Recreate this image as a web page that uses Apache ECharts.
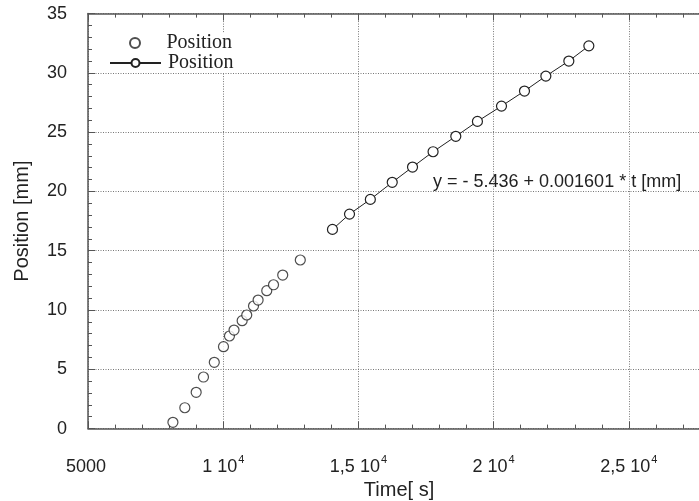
<!DOCTYPE html>
<html>
<head>
<meta charset="utf-8">
<script src="https://cdn.jsdelivr.net/npm/echarts@6.0.0/dist/echarts.min.js"></script>
<style>
  html, body { margin: 0; padding: 0; background: #fff; }
  #chart { width: 699px; height: 501px; }
</style>
</head>
<body>
<div id="chart"></div>
<script>
'use strict';
// measured points (scatter part)
var timeA = [8140, 8580, 9000, 9270, 9670, 10010, 10230, 10400, 10700, 10870, 11120, 11290, 11610, 11860, 12200, 12850];
var posA = [0.53, 1.76, 3.06, 4.35, 5.59, 6.91, 7.81, 8.31, 9.10, 9.58, 10.34, 10.84, 11.63, 12.13, 12.95, 14.22];
// linear part, drawn with line
var timeB = [14040, 14670, 15440, 16250, 17000, 17760, 18600, 19400, 20290, 21140, 21930, 22780, 23520];
var posB = [16.80, 18.09, 19.33, 20.77, 22.06, 23.35, 24.65, 25.91, 27.20, 28.47, 29.73, 31.00, 32.28];

var xTicks = [5000, 10000, 15000, 20000, 25000];
var xTickText = ['5000', '1 10', '1,5 10', '2 10', '2,5 10'];
var xTickExp = ['', '4', '4', '4', '4'];
var yTicks = [0, 5, 10, 15, 20, 25, 30, 35];

var fitText = 'y = - 5.436 + 0.001601 * t [mm]';

var sans = "'Liberation Sans', Arial, Helvetica, sans-serif";
var serif = "'Liberation Serif', 'Times New Roman', serif";

function pairs(xs, ys) {
    var out = [];
    for (var i = 0; i < xs.length; i++) {
        out.push([xs[i], ys[i]]);
    }
    return out;
}

var axisCol = '#555';
function tickStyle() {
    return { show: true, inside: true, length: 7, lineStyle: { color: axisCol, width: 1 } };
}
function minorStyle() {
    return { show: true, splitNumber: 5, length: 4, lineStyle: { color: axisCol, width: 1 } };
}
function lineStyle() {
    return { show: true, onZero: false, lineStyle: { color: axisCol, width: 1.5 } };
}
var gridStyle = { show: true, lineStyle: { color: '#777', type: [1, 1.5], width: 1 } };

var myChart = echarts.init(document.getElementById('chart'), null, { renderer: 'canvas' });
var option = {
    backgroundColor: '#fff',
    animation: false,
    grid: { left: 88, top: 13.6, right: -11, bottom: 72.4, containLabel: false, outerBoundsMode: 'none' },
    legend: [
        {
            data: ['Position'],
            left: 129, top: 33, padding: 0,
            itemWidth: 49, itemHeight: 10,
            backgroundColor: '#fff',
            formatter: function () { return 'Position'; },
            textStyle: { fontFamily: serif, fontSize: 20, color: '#222', padding: [0, 0, 0, 2] }
        },
        {
            data: ['Position fit'],
            left: 109, top: 53, padding: 0,
            itemWidth: 51, itemHeight: 10,
            backgroundColor: '#fff',
            formatter: function () { return 'Position'; },
            textStyle: { fontFamily: serif, fontSize: 20, color: '#222', padding: [0, 0, 0, 2] }
        }
    ],
    xAxis: [
        {
            type: 'value',
            min: 5000, max: 28000, interval: 5000,
            name: 'Time[ s]',
            nameLocation: 'middle',
            nameGap: 44,
            nameTextStyle: { fontFamily: sans, fontSize: 20, color: '#222' },
            axisLine: lineStyle(),
            axisTick: tickStyle(),
            minorTick: minorStyle(),
            splitLine: gridStyle,
            axisLabel: {
                margin: 26,
                showMaxLabel: false,
                formatter: function (v) {
                    var i = xTicks.indexOf(v);
                    if (i < 0) return '';
                    return '{b|' + xTickText[i] + '}{e|' + (xTickExp[i] || ' ') + '}';
                },
                rich: {
                    b: { fontFamily: sans, fontSize: 18, color: '#222', verticalAlign: 'bottom' },
                    e: { fontFamily: sans, fontSize: 11, color: '#222', verticalAlign: 'top', padding: [0, 0, 10, 1] }
                }
            }
        },
        {
            type: 'value',
            position: 'top',
            min: 5000, max: 28000, interval: 5000,
            axisLine: lineStyle(),
            axisTick: tickStyle(),
            minorTick: minorStyle(),
            splitLine: { show: false },
            axisLabel: { show: false }
        }
    ],
    yAxis: [
        {
            type: 'value',
            min: 0, max: 35, interval: 5,
            name: 'Position [mm]',
            nameLocation: 'middle',
            nameGap: 56,
            nameTextStyle: { fontFamily: sans, fontSize: 20, color: '#222' },
            axisLine: lineStyle(),
            axisTick: tickStyle(),
            minorTick: minorStyle(),
            splitLine: gridStyle,
            axisLabel: {
                margin: 21,
                fontFamily: sans, fontSize: 18, color: '#222',
                formatter: function (v) {
                    return yTicks.indexOf(v) < 0 ? '' : String(v);
                }
            }
        },
        {
            type: 'value',
            position: 'right',
            min: 0, max: 35, interval: 5,
            axisLine: lineStyle(),
            axisTick: tickStyle(),
            minorTick: minorStyle(),
            splitLine: { show: false },
            axisLabel: { show: false }
        }
    ],
    series: [
        {
            name: 'Position',
            type: 'scatter',
            symbol: 'circle',
            symbolSize: 10,
            itemStyle: { color: '#fff', borderColor: '#222', borderWidth: 1.2 },
            data: pairs(timeA, posA)
        },
        {
            name: 'Position fit',
            type: 'line',
            symbol: 'circle',
            symbolSize: 10,
            showAllSymbol: true,
            lineStyle: { color: '#222', width: 1 },
            itemStyle: { color: '#fff', borderColor: '#222', borderWidth: 1.2 },
            data: pairs(timeB, posB)
        }
    ],
    graphic: [
        {
            type: 'text',
            left: 433, top: 173,
            style: { text: fitText, font: '18px ' + sans, fill: '#222' }
        }
    ]
};

myChart.setOption(option);
</script>
</body>
</html>
